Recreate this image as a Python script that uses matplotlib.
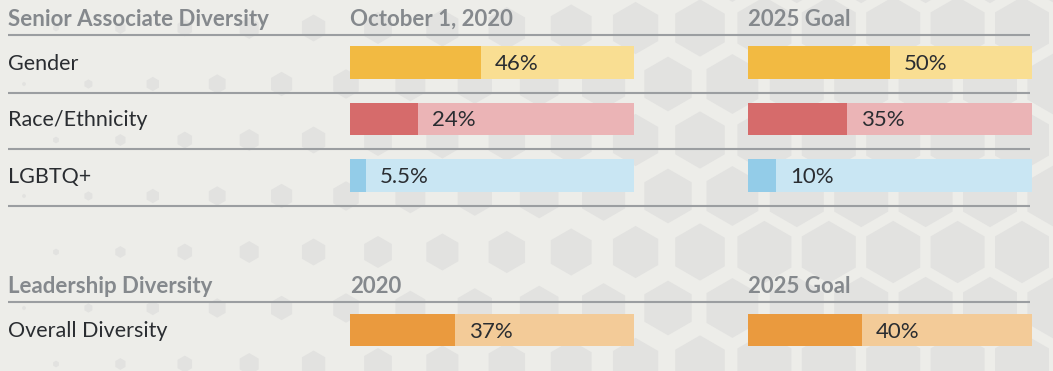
import numpy as np
import matplotlib.pyplot as plt
from matplotlib.patches import RegularPolygon

# --- data ---
senior_title = "Senior Associate Diversity"
senior_cols = ["October 1, 2020", "2025 Goal"]
senior_metrics = ["Gender", "Race/Ethnicity", "LGBTQ+"]
senior_current = [46, 24, 5.5]
senior_goal = [50, 35, 10]

leader_title = "Leadership Diversity"
leader_cols = ["2020", "2025 Goal"]
leader_metrics = ["Overall Diversity"]
leader_current = [37]
leader_goal = [40]

dark_colors = ["#F2BA42", "#D66B6B", "#93CCE8", "#EA9A3E"]
light_colors = ["#F9DE92", "#EBB4B6", "#C9E6F3", "#F3CB98"]

# --- style ---
BG = "#EDEDE9"
HEX = "#E2E2E0"
HEAD = "#85898D"
DARK = "#2A2D31"
RULE = "#9B9EA1"
plt.rcParams['font.family'] = ['Lato', 'DejaVu Sans']

W, H = 1053, 371
fig = plt.figure(figsize=(W / 100, H / 100), dpi=100, facecolor=BG)
ax = fig.add_axes([0, 0, 1, 1])
ax.set_xlim(0, W)
ax.set_ylim(H, 0)
ax.axis('off')
ax.set_facecolor(BG)

# background hexagon texture (decorative)
for k in range(-1, 8):
    yc = 28 + 56 * k
    x0 = 56 if k % 2 == 0 else 24
    for xc in np.arange(x0, W + 40, 64.4):
        w = min(54, 0.068 * xc + 2)
        ax.add_patch(RegularPolygon((xc, yc), 6, radius=w / np.sqrt(3),
                                    facecolor=HEX, edgecolor='none', zorder=0))

col_x = [350, 748]
bar_w = 284
x_left, x_right = 8, 1030
fs = 15.5
fs_head = 16


def section(title, cols, metrics, cur, goal, colors_idx, head_y, first_row):
    ax.text(x_left, head_y, title, color=HEAD, fontsize=fs_head,
            fontweight='bold', va='baseline', ha='left', zorder=3)
    for cx, c in zip(col_x, cols):
        ax.text(cx, head_y, c, color=HEAD, fontsize=fs_head, fontweight='bold',
                va='baseline', ha='left', zorder=3)
    ax.plot([x_left, x_right], [head_y + 9, head_y + 9], color=RULE, lw=1.5,
            solid_capstyle='butt', zorder=2)
    for i, m in enumerate(metrics):
        yc = first_row + 56.5 * i
        ci = colors_idx[i]
        ax.text(x_left, yc + 7, m, color=DARK, fontsize=fs, va='baseline',
                ha='left', zorder=3)
        for cx, v in zip(col_x, [cur[i], goal[i]]):
            ax.barh(yc, bar_w, left=cx, height=32.5, color=light_colors[ci],
                    zorder=2)
            ax.barh(yc, v / 100 * bar_w, left=cx, height=32.5,
                    color=dark_colors[ci], zorder=2)
            ax.text(cx + v / 100 * bar_w + 14, yc + 7.5, f"{v:g}%", color=DARK,
                    fontsize=fs + 0.5, va='baseline', ha='left', zorder=3)
        if len(metrics) > 1:
            ax.plot([x_left, x_right], [yc + 30, yc + 30], color=RULE, lw=1.5,
                    solid_capstyle='butt', zorder=2)


section(senior_title, senior_cols, senior_metrics, senior_current, senior_goal,
        [0, 1, 2], 26, 62.5)
section(leader_title, leader_cols, leader_metrics, leader_current, leader_goal,
        [3], 293, 330)

fig.savefig('out.png', dpi=100, facecolor=BG)
